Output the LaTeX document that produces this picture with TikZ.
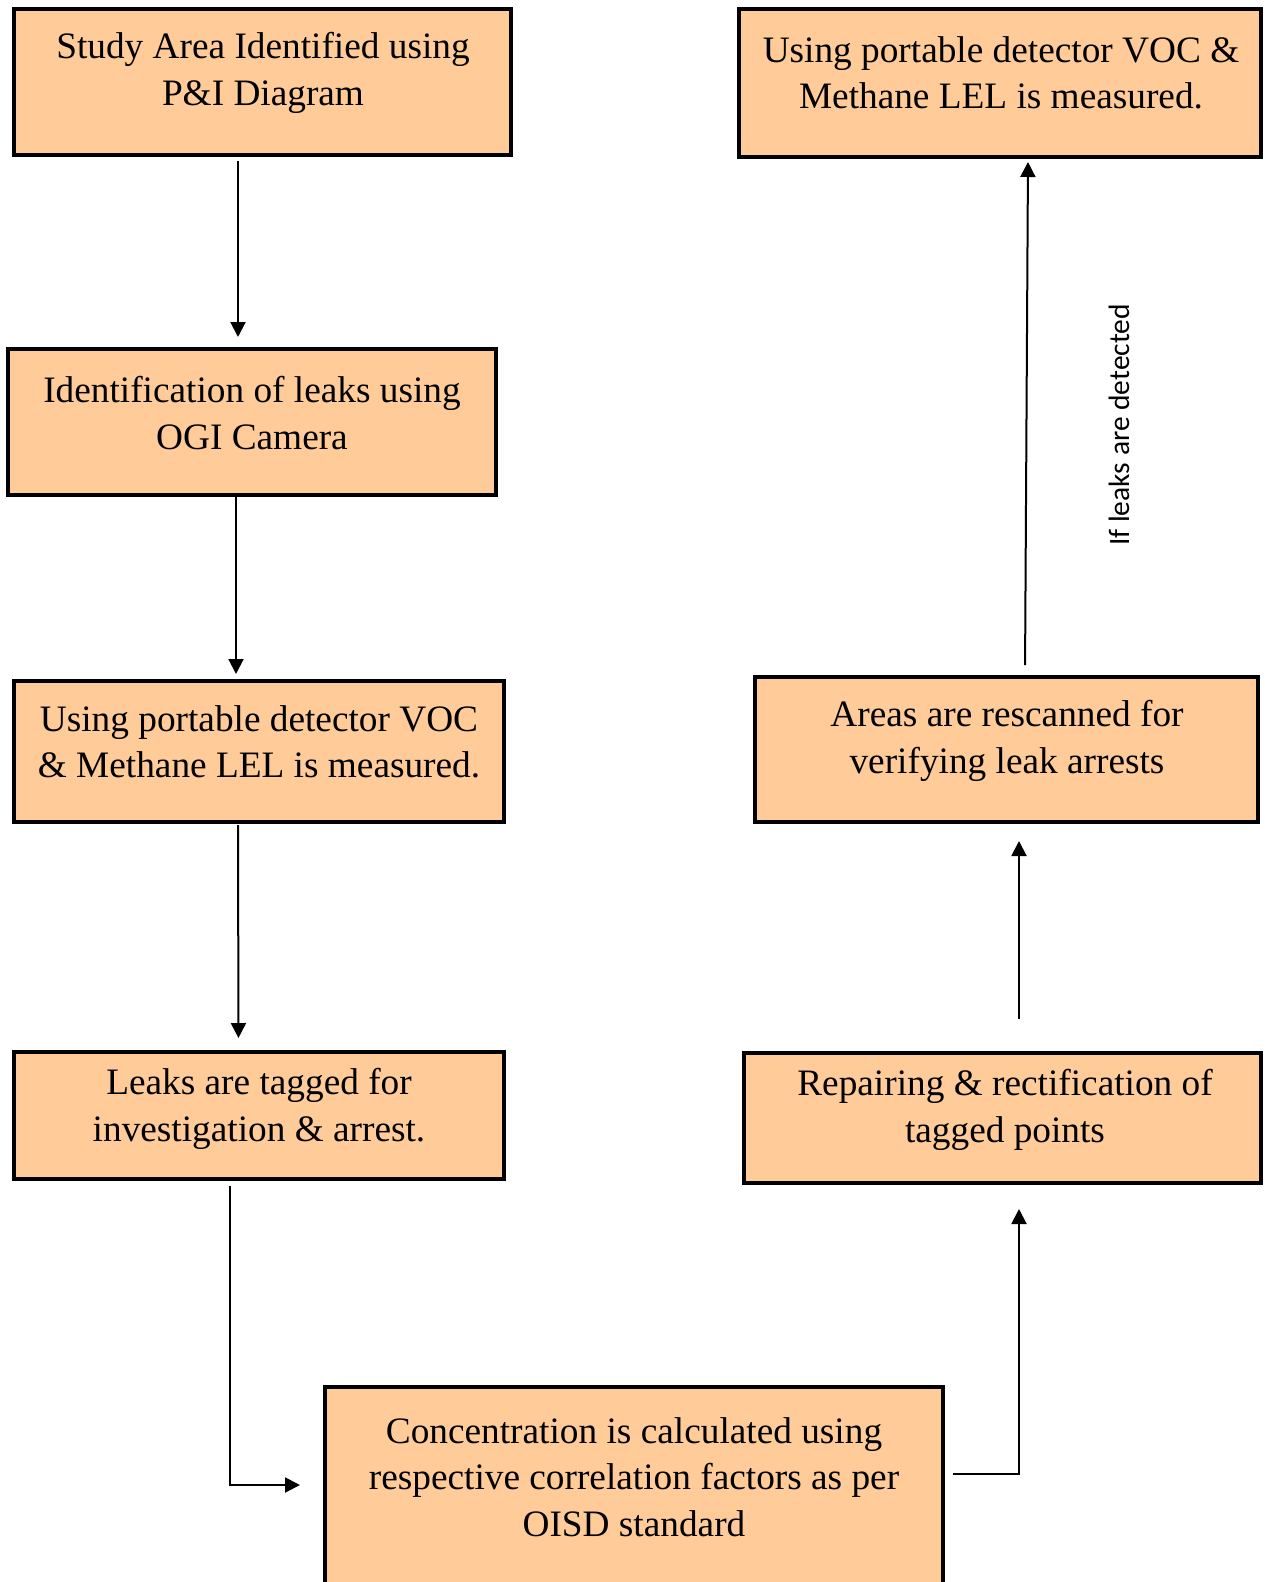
\documentclass[tikz,border=0pt]{standalone}
\usepackage{fontspec}
\setmainfont{Liberation Serif}
\newfontfamily\labfont{Carlito}
\usetikzlibrary{arrows.meta}
\definecolor{boxfill}{HTML}{FFCB99}
\begin{document}
\begin{tikzpicture}[x=1pt,y=-1pt,
  box/.style={draw=black, line width=4pt, fill=boxfill, inner sep=0pt},
  txt/.style={align=center, inner sep=0pt, font=\fontsize{37.3}{46.5}\selectfont},
  arr/.style={line width=2pt, -{Triangle[length=15pt,width=15pt]}}]
\useasboundingbox (0,0) rectangle (1265,1582);
\clip (0,0) rectangle (1265,1582);
% boxes
\node[box, minimum width=497pt, minimum height=146pt] (b1) at (262.5,82) {};
\node[box, minimum width=522pt, minimum height=148pt] (b2) at (1000,83) {};
\node[box, minimum width=488pt, minimum height=146pt] (b3) at (252,422) {};
\node[box, minimum width=490pt, minimum height=141pt] (b4) at (259,751.5) {};
\node[box, minimum width=503pt, minimum height=145pt] (b5) at (1006.5,749.5) {};
\node[box, minimum width=490pt, minimum height=127pt] (b6) at (259,1115.5) {};
\node[box, minimum width=517pt, minimum height=130pt] (b7) at (1002.5,1118) {};
\node[box, minimum width=618pt, minimum height=226pt] (b8) at (634,1500) {};
% texts
\node[txt] (t1) at (263,73) {Study Area Identified using\\P\&I Diagram};
\node[txt] (t2) at (1001,73) {Using portable detector VOC \&\\Methane LEL is measured.};
\node[txt] (t3) at (252,413) {Identification of leaks using\\OGI Camera};
\node[txt] (t4) at (259,742) {Using portable detector VOC\\\& Methane LEL is measured.};
\node[txt] (t5) at (1007,741) {Areas are rescanned for\\verifying leak arrests};
\node[txt] (t6) at (259,1109) {Leaks are tagged for\\investigation \& arrest.};
\node[txt] (t7) at (1005,1110) {Repairing \& rectification of\\tagged points};
\node[txt] (t8) at (634,1477) {Concentration is calculated using\\respective correlation factors as per\\OISD standard};
\node[rotate=90, inner sep=0pt, font=\labfont\fontsize{29.5}{32}\selectfont] (lab) at (1119,425) {If leaks are detected};
% connectors
\draw[arr, shorten <=4pt, shorten >=10pt] (b1.south -| 238,0) -- (b3.north -| 238,0);
\draw[arr, shorten >=5pt] (b3.south -| 236,0) -- (b4.north -| 236,0);
\draw[arr, shorten <=1pt, shorten >=12pt] (b4.south -| 238,0) -- (b6.north -| 238.5,0);
\draw[arr, shorten <=5pt, shorten >=23pt] (b6.south -| 230,0) |- (b8.west |- 0,1485);
\draw[arr, shorten <=8pt, shorten >=24pt] (b8.east |- 0,1474) -| (b7.south -| 1019,0);
\draw[arr, shorten <=32pt, shorten >=17pt] (b7.north -| 1019,0) -- (b5.south -| 1019,0);
\draw[arr, shorten <=10pt, shorten >=3pt] (b5.north -| 1025,0) -- (b2.south -| 1028,0);
\end{tikzpicture}
\end{document}
